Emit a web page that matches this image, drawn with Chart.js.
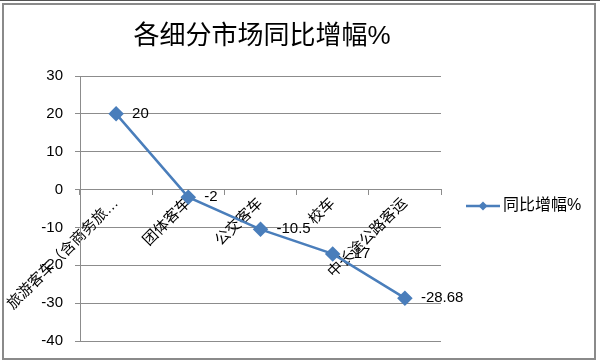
<!DOCTYPE html>
<html>
<head>
<meta charset="utf-8">
<script src="https://cdn.jsdelivr.net/npm/chart.js@4"></script>
<style>
  html, body { margin: 0; padding: 0; background: #fff; }
  #wrap { position: relative; width: 600px; height: 363px; }
  canvas { display: block; }
</style>
</head>
<body>
<div id="wrap"><canvas id="growthChart" width="600" height="363"></canvas></div>
<script>
// Segment growth, year over year (%)
const categories = ['旅游客车（含商务旅…', '团体客车', '公交客车', '校车', '中长途公路客运'];
const growthValues = [20, -2, -10.5, -17, -28.68];
const valueLabels = ['20', '-2', '-10.5', '-17', '-28.68'];
const seriesName = '同比增幅%';
const titleText = '各细分市场同比增幅%';
const yTicks = [30, 20, 10, 0, -10, -20, -30, -40];

const lineColor = '#4a7ebb';
const gridColor = '#8c8c8c';
const textColor = '#000';
const latinFont = "'Liberation Sans', Arial, sans-serif";
const cjkFont = "'Liberation Sans', 'Noto Sans CJK SC', sans-serif";

// Outer frame like the embedded sheet chart, plus the title centred on the frame
const framePlugin = {
  id: 'frame',
  beforeDraw(chart) {
    const ctx = chart.ctx;
    ctx.save();
    ctx.fillStyle = '#fff';
    ctx.fillRect(0, 0, chart.width, chart.height);
    ctx.strokeStyle = '#555';
    ctx.lineWidth = 1;
    ctx.beginPath();
    ctx.moveTo(0, 0.5);
    ctx.lineTo(chart.width, 0.5);
    ctx.stroke();
    ctx.strokeStyle = '#8a8a8a';
    ctx.lineWidth = 2;
    ctx.strokeRect(3, 4, 592, 355);

    ctx.font = '26px ' + cjkFont;
    ctx.fillStyle = textColor;
    ctx.textAlign = 'center';
    ctx.textBaseline = 'middle';
    ctx.fillText(titleText, 262, 37);
    ctx.restore();
  }
};

// Value labels to the right of each point
const valueLabelPlugin = {
  id: 'valueLabels',
  afterDatasetsDraw(chart) {
    const ctx = chart.ctx;
    const meta = chart.getDatasetMeta(0);
    ctx.save();
    ctx.font = '15px ' + latinFont;
    ctx.fillStyle = textColor;
    ctx.textBaseline = 'middle';
    ctx.textAlign = 'left';
    meta.data.forEach((pt, i) => {
      ctx.fillText(valueLabels[i], pt.x + 16, pt.y);
    });
    ctx.restore();
  }
};

// Legend on the right: line with a diamond marker
const legendPlugin = {
  id: 'sideLegend',
  afterDraw(chart) {
    const ctx = chart.ctx;
    const y = 206;
    ctx.save();
    ctx.strokeStyle = lineColor;
    ctx.lineWidth = 2.5;
    ctx.beginPath();
    ctx.moveTo(466, y);
    ctx.lineTo(500, y);
    ctx.stroke();
    ctx.fillStyle = lineColor;
    ctx.beginPath();
    ctx.moveTo(483, y - 4.5);
    ctx.lineTo(487.5, y);
    ctx.lineTo(483, y + 4.5);
    ctx.lineTo(478.5, y);
    ctx.closePath();
    ctx.fill();
    ctx.font = '16px ' + cjkFont;
    ctx.fillStyle = textColor;
    ctx.textBaseline = 'middle';
    ctx.fillText(seriesName, 503, y);
    ctx.restore();
  }
};

new Chart(document.getElementById('growthChart'), {
  type: 'line',
  data: {
    labels: categories,
    datasets: [{
      label: seriesName,
      data: growthValues,
      borderColor: lineColor,
      backgroundColor: lineColor,
      borderWidth: 2.5,
      pointStyle: 'rectRot',
      pointRadius: 6,
      pointHoverRadius: 6,
      tension: 0
    }]
  },
  options: {
    responsive: false,
    animation: false,
    layout: { padding: { left: 0, right: 159, top: 76, bottom: 22 } },
    plugins: {
      legend: { display: false },
      tooltip: { enabled: false },
      title: { display: false }
    },
    scales: {
      x: {
        position: { y: 0 },
        offset: true,
        border: { color: gridColor, width: 1 },
        grid: { drawOnChartArea: false, drawTicks: true, tickLength: 5, color: gridColor, offset: true },
        ticks: {
          autoSkip: false,
          minRotation: 45,
          maxRotation: 45,
          padding: 0,
          color: textColor,
          font: { family: cjkFont, size: 15 }
        }
      },
      y: {
        min: -40,
        max: 30,
        afterFit(scale) { scale.width = 80; },
        afterBuildTicks(scale) { scale.ticks = yTicks.map(v => ({ value: v })); },
        border: { color: gridColor, width: 1 },
        grid: { color: gridColor, tickLength: 5 },
        ticks: {
          padding: 12,
          color: textColor,
          font: { family: latinFont, size: 15 }
        }
      }
    }
  },
  plugins: [framePlugin, valueLabelPlugin, legendPlugin]
});
</script>
</body>
</html>
